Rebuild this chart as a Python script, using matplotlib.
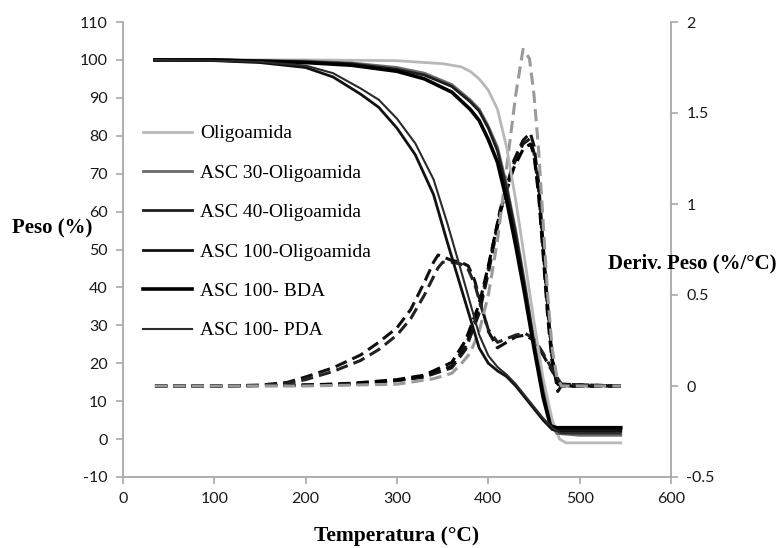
import numpy as np
import matplotlib.pyplot as plt

plt.rcParams["axes.unicode_minus"] = False

# TGA curves (Peso %, left axis)
temp_oligo = [35, 100, 200, 300, 350, 370, 380, 390, 400, 410, 420, 430, 440, 450, 460, 470, 478, 485, 500, 545]
peso_oligo = [100, 100, 100, 99.8, 99, 98.2, 97, 95, 92, 87, 77, 63, 47, 31, 16, 5, 0, -1, -1, -1]

temp_steep = [35, 100, 200, 250, 300, 330, 360, 380, 390, 400, 410, 420, 430, 440, 450, 460, 468, 475, 500, 545]
peso_asc30 = [100, 100, 99.7, 99.2, 98, 96.5, 93.5, 89.5, 87, 82.5, 77, 67, 55, 41, 26, 13, 4, 1.5, 1, 1]
peso_asc40 = [100, 100, 99.5, 99, 97.5, 96, 93, 89, 86.5, 82, 76, 66, 54, 40, 25, 12, 3.5, 2.5, 2.5, 2.5]
peso_bda = [100, 100, 99.3, 98.6, 97, 95, 91.5, 87, 84, 79, 73, 63, 51, 38, 24, 11, 3.5, 3, 3, 3]

temp_early = [35, 100, 150, 200, 230, 260, 280, 300, 320, 340, 355, 370, 380, 390, 400, 410, 420, 430, 440, 450, 460, 470, 480, 545]
peso_asc100 = [100, 99.8, 99.3, 98, 95.5, 91, 87.5, 82, 75, 64.5, 52, 40, 32, 24, 20, 18, 16.5, 14, 11, 8, 5, 2.5, 2, 2]
peso_pda = [100, 99.8, 99.5, 98.5, 96.5, 92.5, 89.5, 84.5, 78, 68.5, 57, 44.5, 36, 27.5, 22, 19, 17, 14.5, 11.5, 8.5, 5.5, 3, 1.5, 1.5]

# Derivative curves (Deriv. Peso %/°C, right axis)
temp_d_oligo = [35, 100, 200, 300, 340, 360, 370, 380, 390, 400, 410, 420, 430, 438, 445, 450, 455, 460, 465, 470, 475, 480, 545]
deriv_oligo = [0, 0, 0, 0.01, 0.04, 0.07, 0.12, 0.18, 0.3, 0.5, 0.8, 1.2, 1.6, 1.85, 1.8, 1.6, 1.3, 0.9, 0.5, 0.2, 0.05, 0, 0]

temp_d_steep = [35, 100, 200, 250, 300, 330, 360, 375, 390, 400, 413, 428, 438, 446, 450, 455, 460, 465, 470, 476, 480, 545]
deriv_asc30 = [0, 0, 0.005, 0.01, 0.03, 0.05, 0.1, 0.2, 0.4, 0.62, 0.95, 1.22, 1.33, 1.36, 1.28, 1.08, 0.75, 0.42, 0.15, 0.02, 0, 0]
deriv_asc40 = [0, 0, 0.005, 0.01, 0.03, 0.05, 0.11, 0.22, 0.42, 0.65, 0.97, 1.24, 1.35, 1.39, 1.32, 1.12, 0.78, 0.44, 0.15, -0.03, 0, 0]
deriv_bda = [0, 0, 0.005, 0.015, 0.035, 0.06, 0.13, 0.25, 0.45, 0.66, 0.96, 1.2, 1.3, 1.33, 1.27, 1.05, 0.72, 0.38, 0.12, 0.01, 0, 0]

temp_d_early = [35, 100, 150, 180, 200, 230, 260, 280, 300, 315, 330, 340, 345, 350, 360, 370, 378, 385, 392, 400, 410, 420, 430, 440, 450, 460, 470, 480, 545]
deriv_asc100 = [0, 0, 0.005, 0.02, 0.05, 0.1, 0.17, 0.24, 0.32, 0.42, 0.57, 0.68, 0.72, 0.71, 0.69, 0.68, 0.66, 0.58, 0.45, 0.3, 0.21, 0.24, 0.27, 0.28, 0.25, 0.17, 0.08, 0.01, 0]
deriv_pda = [0, 0, 0.003, 0.015, 0.035, 0.08, 0.14, 0.2, 0.28, 0.37, 0.5, 0.6, 0.65, 0.68, 0.68, 0.67, 0.64, 0.56, 0.44, 0.31, 0.24, 0.26, 0.28, 0.29, 0.26, 0.18, 0.09, 0.01, 0]

labels = ["Oligoamida", "ASC 30-Oligoamida", "ASC 40-Oligoamida",
          "ASC 100-Oligoamida", "ASC 100- BDA", "ASC 100- PDA"]

axis_gray = "#a8a8a8"
tick_font = "Lato"
serif = "Liberation Serif"

fig = plt.figure(figsize=(7.83, 5.48), dpi=100)
ax = fig.add_axes([123 / 783, 71 / 548, 548 / 783, 455 / 548])
ax2 = ax.twinx()

dash = (4, 2)
ax2.plot(temp_d_steep, deriv_asc30, color="#1a1a1a", lw=2.2, dashes=dash)
ax2.plot(temp_d_steep, deriv_asc40, color="#111111", lw=2.2, dashes=dash)
ax2.plot(temp_d_steep, deriv_bda, color="#000000", lw=2.2, dashes=dash)
ax2.plot(temp_d_early, deriv_asc100, color="#111111", lw=2.2, dashes=dash)
ax2.plot(temp_d_early, deriv_pda, color="#222222", lw=2.2, dashes=dash)
ax2.plot(temp_d_oligo, deriv_oligo, color="#9a9a9a", lw=2.2, dashes=dash)

l1, = ax.plot(temp_oligo, peso_oligo, color="#b8b8b8", lw=2.0)
l2, = ax.plot(temp_steep, peso_asc30, color="#6a6a6a", lw=2.0)
l3, = ax.plot(temp_steep, peso_asc40, color="#1e1e1e", lw=2.0)
l4, = ax.plot(temp_early, peso_asc100, color="#111111", lw=2.0)
l5, = ax.plot(temp_steep, peso_bda, color="#000000", lw=2.6)
l6, = ax.plot(temp_early, peso_pda, color="#2a2a2a", lw=1.5)
ax.set_zorder(ax2.get_zorder() + 1)
ax.patch.set_visible(False)

ax.set_xlim(0, 600)
ax.set_ylim(-10, 110)
ax2.set_ylim(-0.5, 2)
ax.set_xticks(np.arange(0, 601, 100))
ax.set_yticks(np.arange(-10, 111, 10))
ax2.set_yticks([-0.5, 0, 0.5, 1, 1.5, 2])
ax2.set_yticklabels(["-0.5", "0", "0.5", "1", "1.5", "2"])

for a in (ax, ax2):
    a.spines["top"].set_visible(False)
    for s in ("left", "right", "bottom"):
        a.spines[s].set_color(axis_gray)
        a.spines[s].set_linewidth(1.3)
    a.tick_params(colors=axis_gray, labelcolor="#1a1a1a", length=5, width=1.2, pad=6)
    for t in a.get_xticklabels() + a.get_yticklabels():
        t.set_fontfamily(tick_font)
        t.set_fontsize(11.5)
ax.spines["right"].set_visible(False)
ax2.spines["left"].set_visible(False)
ax2.spines["bottom"].set_visible(False)

fig.text(52 / 783, 1 - 228 / 548, "Peso (%)", family=serif, weight="bold",
         fontsize=15, ha="center", va="center")
fig.text(692 / 783, 1 - 263 / 548, "Deriv. Peso (%/°C)", family=serif, weight="bold",
         fontsize=15, ha="center", va="center")
fig.text(397 / 783, 1 - 536 / 548, "Temperatura (°C)", family=serif, weight="bold",
         fontsize=15.5, ha="center", va="center")

leg = ax.legend([l1, l2, l3, l4, l5, l6], labels, loc="upper left",
                bbox_to_anchor=(0.012, 0.804), frameon=False,
                prop={"family": serif, "size": 14},
                handlelength=2.5, handletextpad=0.41, labelspacing=1.12,
                borderaxespad=0.3)

fig.savefig("out.png", dpi=100)
